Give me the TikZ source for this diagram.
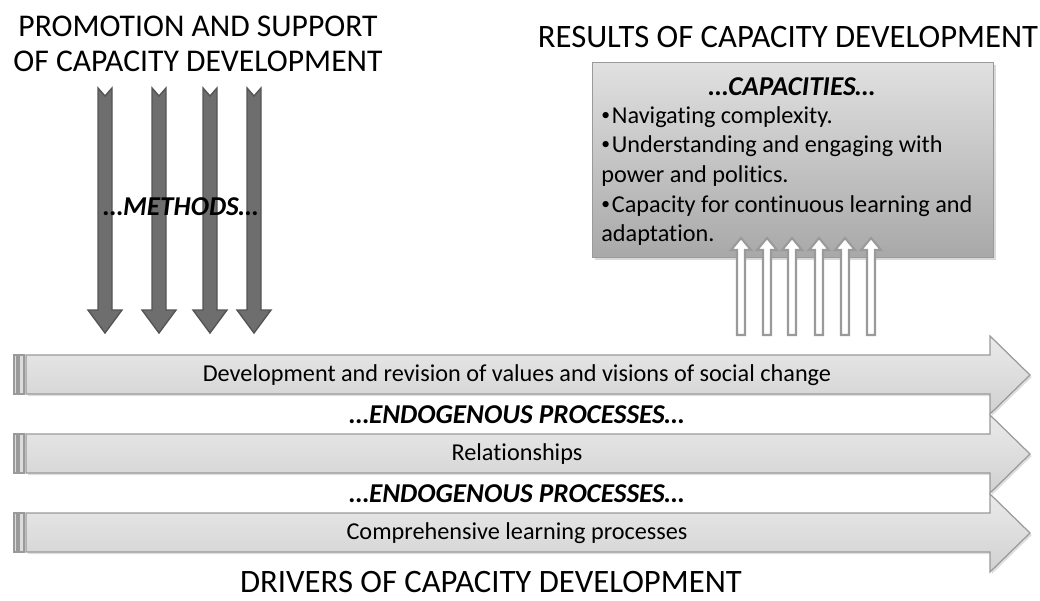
\documentclass[tikz,border=0pt]{standalone}
\usepackage{fontspec}
\setmainfont[Ligatures=NoCommon]{Carlito}
\usetikzlibrary{shadows}
\definecolor{bandfill}{HTML}{DCDCDC}
\definecolor{bandline}{HTML}{9A9A9A}
\definecolor{methfill}{HTML}{6E6E6E}
\definecolor{methline}{HTML}{555555}
\newcommand{\capbullet}{\raisebox{0.25ex}{\fontsize{10}{10}\selectfont•}\kern1pt}

\begin{document}
\begin{tikzpicture}[x=0.02cm,y=-0.02cm]
	\tikzset{band/.style={draw=bandline,line width=0.7pt,top color=bandfill!60,bottom color=bandfill!95!black,drop shadow={opacity=0.25,shadow xshift=1pt,shadow yshift=-1.2pt}}}
	\tikzset{bandend/.style={draw=bandline,line width=0.6pt,fill=bandfill}}
	\tikzset{methodarrow/.style={draw=methline,line width=0.8pt,fill=methfill}}
	\tikzset{resultarrow/.style={draw=bandline,line width=1.2pt,fill=white}}
	\tikzset{title/.style={font=\fontsize{18.6}{20}\selectfont,align=center}}
	\tikzset{bandtext/.style={font=\fontsize{13.8}{16}\selectfont}}
	\tikzset{process/.style={font=\fontsize{15.5}{18}\selectfont\bfseries\itshape}}
	\useasboundingbox (0,0) rectangle (1040,601);
	% the three bands
	\foreach \y in {355,434,513} {
		\draw[band] (26,\y) -- (990,\y) -- (990,\y-19) -- (1030,\y+20) -- (990,\y+59) -- (990,\y+39) -- (26,\y+39) -- cycle;
		\draw[bandend] (14,\y) rectangle (17,\y+39);
		\draw[bandend] (19,\y) rectangle (24,\y+39);
	}
	\node[bandtext] (values) at (517,375) {Development and revision of values and visions of social change};
	\node[bandtext] (relations) at (517,454) {Relationships};
	\node[bandtext] (learning) at (517,533) {Comprehensive learning processes};
	\node[process] (endo1) at (517,415) {\dots ENDOGENOUS PROCESSES\dots};
	\node[process] (endo2) at (517,494) {\dots ENDOGENOUS PROCESSES\dots};
	% methods
	\foreach \x in {105,159,210,254}
		\draw[methodarrow] (\x-7,88) -- (\x,96) -- (\x+7,88) -- (\x+7,310) -- (\x+17,310) -- (\x,333) -- (\x-17,310) -- (\x-7,310) -- cycle;
	\node[process] (methods) at (181,207) {\dots METHODS\dots};
	% capacities box
	\node[draw=bandline,line width=0.7pt,top color=white!88!black,bottom color=white!66!black,
		drop shadow={opacity=0.3,shadow xshift=1.5pt,shadow yshift=-1.5pt},
		minimum width=401*0.02cm,minimum height=195*0.02cm,anchor=north west] (capbox) at (592,62) {};
	\node[process] (capacities) at (792,87) {\dots CAPACITIES\dots};
	\node[anchor=north west,align=left,font=\fontsize{13.8}{16.9}\selectfont,inner sep=0pt] (caplist) at (601,106)
		{\capbullet Navigating complexity.\\\capbullet Understanding and engaging with\\power and politics.\\\capbullet Capacity for continuous learning and\\adaptation.};
	\foreach \x in {741,767,792,819,845,871}
		\draw[resultarrow] (\x-4,335) -- (\x-4,250) -- (\x-10,250) -- (\x,238) -- (\x+10,250) -- (\x+4,250) -- (\x+4,335) -- cycle;
	% titles
	\node[title,font=\fontsize{18}{20}\selectfont] (promotion) at (198,44) {PROMOTION AND SUPPORT\\OF CAPACITY DEVELOPMENT};
	\node[title] (results) at (788,37) {RESULTS OF CAPACITY DEVELOPMENT};
	\node[title] (drivers) at (491,582) {DRIVERS OF CAPACITY DEVELOPMENT};
\end{tikzpicture}
\end{document}
